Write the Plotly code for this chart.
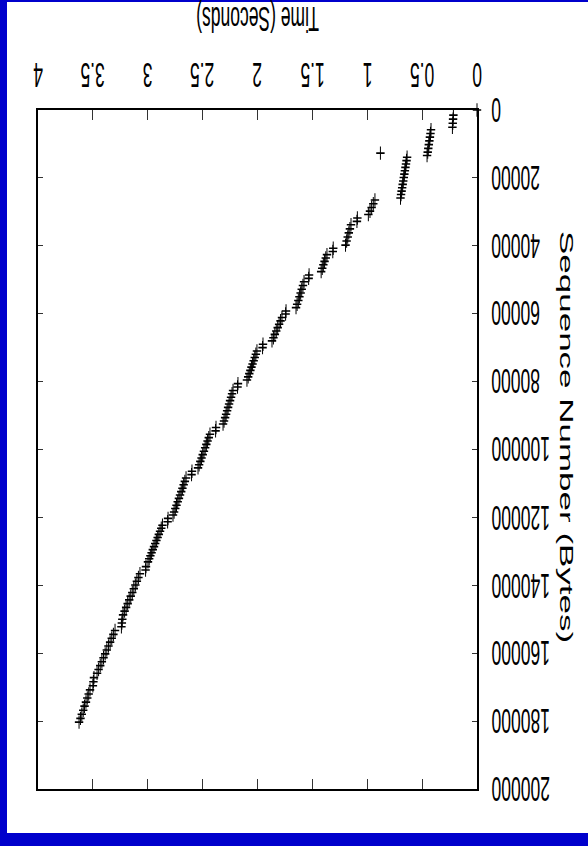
import plotly.graph_objects as go

# Time (s) and sequence number (bytes) of each plotted segment
time_s = [
    0.0,
    0.215, 0.218, 0.221, 0.224,
    0.419, 0.424, 0.429, 0.434, 0.439, 0.444, 0.449, 0.455,
    0.880,
    0.637, 0.642, 0.647, 0.652, 0.657, 0.662, 0.667, 0.672, 0.677, 0.682, 0.687, 0.692, 0.697,
    0.930, 0.945, 0.960, 0.975, 0.990,
    1.090, 1.094,
    1.148, 1.158, 1.168, 1.178, 1.188, 1.198,
    1.310, 1.314,
    1.367, 1.378, 1.389, 1.400, 1.410, 1.420,
    1.530, 1.534,
    1.576, 1.586, 1.597, 1.607, 1.618, 1.628, 1.639, 1.649,
    1.740, 1.744,
    1.777, 1.790, 1.803, 1.816, 1.829, 1.842, 1.855, 1.868,
    1.950, 1.954,
    2.005, 2.015, 2.025, 2.035, 2.045, 2.055, 2.065, 2.075, 2.085, 2.096,
    2.178, 2.182,
    2.223, 2.232, 2.241, 2.250, 2.259, 2.268, 2.277, 2.286, 2.295, 2.305, 2.314,
    2.378, 2.382,
    2.433, 2.444, 2.455, 2.466, 2.477, 2.488, 2.499, 2.510, 2.521, 2.532, 2.542,
    2.597, 2.601,
    2.651, 2.662, 2.673, 2.684, 2.695, 2.706, 2.716, 2.727, 2.738, 2.749, 2.760, 2.770,
    2.815, 2.819,
    2.866, 2.877, 2.888, 2.899, 2.910, 2.921, 2.932, 2.943, 2.954, 2.965, 2.976, 2.987, 2.998,
    3.016, 3.020,
    3.071, 3.085, 3.099, 3.113, 3.127, 3.141, 3.155, 3.169, 3.183, 3.197, 3.211, 3.225,
    3.232, 3.236, 3.240,
    3.298, 3.313, 3.328, 3.343, 3.358, 3.373, 3.388, 3.403, 3.418, 3.433, 3.448, 3.462,
    3.490, 3.495, 3.500,
    3.526, 3.538, 3.551, 3.563, 3.576, 3.588, 3.601, 3.613, 3.626,
]
seq_bytes = [
    0,
    1500, 2700, 3900, 5100,
    5800, 6900, 8000, 9100, 10200, 11300, 12400, 13400,
    12700,
    13900, 14900, 15900, 16900, 17900, 18900, 19900, 20900, 21900, 22900, 23900, 24900, 25900,
    26500, 27600, 28700, 29800, 30800,
    31800, 32800,
    33800, 35000, 36200, 37400, 38600, 39800,
    40700, 41700,
    42600, 43600, 44600, 45600, 46600, 47600,
    48600, 49600,
    50600, 51700, 52800, 53900, 55000, 56100, 57200, 58200,
    59200, 60100,
    61100, 62100, 63100, 64100, 65100, 66100, 67100, 68000,
    69000, 70000,
    71000, 71950, 72900, 73850, 74800, 75750, 76700, 77650, 78600, 79550,
    80600, 81600,
    82600, 83600, 84600, 85600, 86600, 87600, 88600, 89600, 90600, 91600, 92500,
    93500, 94500,
    95500, 96500, 97500, 98500, 99500, 100500, 101500, 102500, 103500, 104500, 105400,
    106400, 107400,
    108400, 109400, 110400, 111400, 112400, 113400, 114400, 115400, 116400, 117400, 118400, 119300,
    120300, 121300,
    122300, 123200, 124100, 125000, 125900, 126800, 127700, 128600, 129500, 130400, 131300, 132200, 133100,
    134500, 135500,
    136600, 137700, 138800, 139900, 141000, 142100, 143200, 144300, 145400, 146500, 147600, 148700,
    150000, 151100, 152200,
    153300, 154450, 155600, 156750, 157900, 159050, 160200, 161350, 162500, 163650, 164800, 165900,
    167200, 168400, 169600,
    170800, 172000, 173200, 174400, 175600, 176800, 178000, 179200, 180300,
]

time_ticks = [0, 0.5, 1, 1.5, 2, 2.5, 3, 3.5, 4]
time_tick_text = ["0", "0.5", "1", "1.5", "2", "2.5", "3", "3.5", "4"]
seq_ticks = [0, 20000, 40000, 60000, 80000, 100000, 120000, 140000, 160000, 180000, 200000]
seq_tick_text = ["0", "20000", "40000", "60000", "80000", "100000", "120000",
                 "140000", "160000", "180000", "200000"]

x_title = "Time (Seconds)"
y_title = "Sequence Number (Bytes)"

W, H = 588, 846
L, R, T, B = 38, 477, 110, 789

def px_x(p):
    return (p - L) / (R - L)

def px_y(p):
    return (B - p) / (B - T)

FONT = "Liberation Sans, Arial, Helvetica, sans-serif"
FS = 17.5

fig = go.Figure()
fig.add_trace(go.Scatter(
    x=time_s, y=seq_bytes, mode="markers", cliponaxis=False,
    marker=dict(symbol="cross-thin", size=6, line=dict(width=1, color="black"), color="black"),
    showlegend=False, hoverinfo="skip",
))

axis_common = dict(
    showline=True, linecolor="black", linewidth=1.5, mirror="allticks",
    ticks="inside", tickwidth=1, tickcolor="#333",
    showgrid=False, zeroline=False, showticklabels=False,
)
fig.update_xaxes(range=[4, 0], side="top", tickvals=time_ticks, ticklen=10, **axis_common)
fig.update_yaxes(range=[200000, 0], side="right", tickvals=seq_ticks, ticklen=5, **axis_common)

# tick labels (upside-down, as in the rotated original)
for v, t in zip(time_ticks, time_tick_text):
    fig.add_annotation(text=t, xref="x", x=v, yref="paper", y=px_y(75),
                       showarrow=False, textangle=180, xanchor="center", yanchor="middle",
                       font=dict(family=FONT, size=FS, color="black"))
for v, t in zip(seq_ticks, seq_tick_text):
    fig.add_annotation(text=t, xref="paper", x=px_x(489), yref="y", y=v,
                       showarrow=False, textangle=180, xanchor="left", yanchor="middle",
                       font=dict(family=FONT, size=FS, color="black"))

fig.add_shape(type="rect", xref="paper", yref="paper",
              x0=px_x(7), x1=px_x(600), y0=px_y(833), y1=px_y(2),
              fillcolor="white", line=dict(width=0), layer="below")

fig.add_annotation(text=x_title, xref="paper", yref="paper", x=px_x(258), y=px_y(19),
                   showarrow=False, textangle=180, xanchor="center", yanchor="middle",
                   font=dict(family=FONT, size=FS, color="black"))
fig.add_annotation(text=y_title, xref="paper", yref="paper", x=px_x(566), y=px_y(437),
                   showarrow=False, textangle=90, xanchor="center", yanchor="middle",
                   font=dict(family=FONT, size=FS, color="black"))

fig.update_layout(
    width=W, height=H,
    margin=dict(l=L, r=W - R, t=T, b=H - B, pad=0),
    paper_bgcolor="#0000CC", plot_bgcolor="white",
)

# The original picture is a vertically stretched (2x) and rotated page:
# reproduce that stretch on texts and markers after rendering.
post = """
document.body.style.margin = '0';
var gd = document.getElementById('{plot_id}');
function stretch(t, sx, sy) {
  var b = t.getBBox();
  var cx = b.x + b.width / 2, cy = b.y + b.height / 2;
  var tr = t.getAttribute('transform') || '';
  t.setAttribute('transform', tr + ' translate(' + cx + ',' + cy + ') scale(' + sx + ',' + sy +
                 ') translate(' + (-cx) + ',' + (-cy) + ')');
}
gd.querySelectorAll('.annotation-text').forEach(function (t) {
  if (t.textContent.indexOf('Sequence') === 0) { stretch(t, 2, 1); } else { stretch(t, 1, 2); }
});
gd.querySelectorAll('.scatterlayer path.point').forEach(function (p) {
  var tr = p.getAttribute('transform') || '';
  p.setAttribute('transform', tr + ' scale(1,1.6)');
});
"""

fig.write_html("out.html", post_script=post, config={"displayModeBar": False})
